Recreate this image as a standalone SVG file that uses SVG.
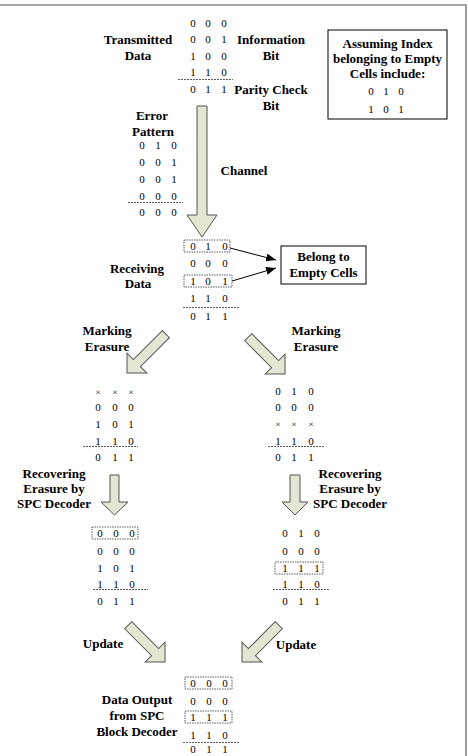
<svg xmlns="http://www.w3.org/2000/svg" width="468" height="756" viewBox="0 0 468 756">
<defs>
<style>
.lb{font-family:"Liberation Serif","Times New Roman",serif;font-weight:bold;font-size:13px;text-anchor:middle;fill:#000}
.d{font-family:"Liberation Serif","Times New Roman",serif;font-size:11px;text-anchor:middle;fill:#000}
.x{font-family:"Liberation Serif","Times New Roman",serif;font-size:9px;text-anchor:middle;fill:#000}
.dl{stroke:#333;stroke-width:0.8;stroke-dasharray:2 1;fill:none}
.bx{stroke:#333;stroke-width:0.8;stroke-dasharray:1.5 1;fill:none}
.ar{fill:#e4e5d2;stroke:#555;stroke-width:1}
.ln{stroke:#000;stroke-width:1;fill:none}
</style>
<marker id="ah" markerWidth="10" markerHeight="8" refX="10" refY="4" orient="auto" markerUnits="userSpaceOnUse">
<path d="M0,0 L10,4 L0,8 Z" fill="#000"/>
</marker>
</defs>
<path d="M0,5 H466 V756" fill="none" stroke="#888" stroke-width="1.6"/>

<g id="transmitted">
<text class="lb" x="138" y="43.5">Transmitted</text>
<text class="lb" x="138" y="59.5">Data</text>
<text class="d" x="193 200.5 208 216 224" y="27">0 0 0</text>
<text class="d" x="193 200.5 208 216 224" y="43">0 0 1</text>
<text class="d" x="193 200.5 208 216 224" y="60">1 0 0</text>
<text class="d" x="193 200.5 208 216 224" y="76">1 1 0</text>
<line class="dl" x1="178" y1="79.5" x2="233" y2="79.5"/>
<text class="d" x="193 200.5 208 216 224" y="93">0 1 1</text>
<text class="lb" x="271" y="43.5">Information</text>
<text class="lb" x="271" y="59.5">Bit</text>
<text class="lb" x="271" y="93.5">Parity Check</text>
<text class="lb" x="271" y="109.5">Bit</text>
</g>

<g id="assuming">
<rect x="328" y="30" width="119" height="89" fill="none" stroke="#000" stroke-width="1"/>
<text class="lb" x="387.5" y="47.5">Assuming Index</text>
<text class="lb" x="387.5" y="62.5">belonging to Empty</text>
<text class="lb" x="387.5" y="77.5">Cells include:</text>
<text class="d" x="371 378.5 386 393.5 401" y="95">0 1 0</text>
<text class="d" x="371 378.5 386 393.5 401" y="113">1 0 1</text>
</g>

<g id="error">
<text class="lb" x="152" y="119.5">Error</text>
<text class="lb" x="153" y="135.5">Pattern</text>
<text class="d" x="142 150 158 166 174" y="149">0 1 0</text>
<text class="d" x="142 150 158 166 174" y="166">0 0 1</text>
<text class="d" x="142 150 158 166 174" y="183">0 0 1</text>
<text class="d" x="142 150 158 166 174" y="200">0 0 0</text>
<line class="dl" x1="128" y1="202.5" x2="183" y2="202.5"/>
<text class="d" x="142 150 158 166 174" y="216">0 0 0</text>
</g>

<g id="channel-label">
<text class="lb" x="244" y="174.5">Channel</text>
</g>

<g id="receiving">
<text class="lb" x="137" y="272.5">Receiving</text>
<text class="lb" x="138" y="287.5">Data</text>
<rect class="bx" x="184" y="240" width="46" height="12"/>
<text class="d" x="193 200.5 208 216.5 225" y="250">0 1 0</text>
<text class="d" x="193 200.5 208 216.5 225" y="267">0 0 0</text>
<rect class="bx" x="184" y="275" width="48" height="12"/>
<text class="d" x="193 200.5 208 216.5 225" y="285">1 0 1</text>
<text class="d" x="193 200.5 208 216.5 225" y="302">1 1 0</text>
<line class="dl" x1="183" y1="307.5" x2="239" y2="307.5"/>
<text class="d" x="193 200.5 208 216.5 225" y="320">0 1 1</text>
</g>

<g id="belong">
<rect x="281" y="246" width="85" height="38" fill="none" stroke="#000" stroke-width="1"/>
<text class="lb" x="323.5" y="261">Belong to</text>
<text class="lb" x="323.5" y="277">Empty Cells</text>
</g>

<g id="marking-left">
<text class="lb" x="107" y="334.5">Marking</text>
<text class="lb" x="107" y="350.5">Erasure</text>
</g>
<g id="marking-right">
<text class="lb" x="316" y="334.5">Marking</text>
<text class="lb" x="316" y="350.5">Erasure</text>
</g>

<g id="left-erased">
<text class="x" x="98 106.5 115 123 131" y="395">× × ×</text>
<text class="d" x="98 106.5 115 123 131" y="411">0 0 0</text>
<text class="d" x="98 106.5 115 123 131" y="428">1 0 1</text>
<text class="d" x="98 106.5 115 123 131" y="445">1 1 0</text>
<line class="dl" x1="83" y1="446.5" x2="138" y2="446.5"/>
<text class="d" x="98 106.5 115 123 131" y="461">0 1 1</text>
</g>

<g id="right-erased">
<text class="d" x="278 286 294 302.5 311" y="395">0 1 0</text>
<text class="d" x="278 286 294 302.5 311" y="411">0 0 0</text>
<text class="x" x="278 286 294 302.5 311" y="427">× × ×</text>
<text class="d" x="278 286 294 302.5 311" y="445">1 1 0</text>
<line class="dl" x1="268" y1="446.5" x2="324" y2="446.5"/>
<text class="d" x="278 286 294 302.5 311" y="461">0 1 1</text>
</g>

<g id="recover-left">
<text class="lb" x="54" y="477.5">Recovering</text>
<text class="lb" x="54" y="492.5">Erasure by</text>
<text class="lb" x="54" y="507.5">SPC Decoder</text>
</g>
<g id="recover-right">
<text class="lb" x="350" y="477.5">Recovering</text>
<text class="lb" x="350" y="492.5">Erasure by</text>
<text class="lb" x="350" y="507.5">SPC Decoder</text>
</g>

<g id="left-recovered">
<rect class="bx" x="92" y="527" width="46" height="12"/>
<text class="d" x="100 108 116 124 132" y="537">0 0 0</text>
<text class="d" x="100 108 116 124 132" y="555">0 0 0</text>
<text class="d" x="100 108 116 124 132" y="572">1 0 1</text>
<text class="d" x="100 108 116 124 132" y="588">1 1 0</text>
<line class="dl" x1="93" y1="589.5" x2="148" y2="589.5"/>
<text class="d" x="100 108 116 124 132" y="605">0 1 1</text>
</g>

<g id="right-recovered">
<text class="d" x="285 293 301 309 317" y="537">0 1 0</text>
<text class="d" x="285 293 301 309 317" y="555">0 0 0</text>
<rect class="bx" x="275" y="562" width="48" height="12"/>
<text class="d" x="285 293 301 309 317" y="572">1 1 1</text>
<text class="d" x="285 293 301 309 317" y="588">1 1 0</text>
<line class="dl" x1="273" y1="589.5" x2="330" y2="589.5"/>
<text class="d" x="285 293 301 309 317" y="605">0 1 1</text>
</g>

<g id="update-left">
<text class="lb" x="103" y="648">Update</text>
</g>
<g id="update-right">
<text class="lb" x="296" y="649">Update</text>
</g>

<g id="output">
<text class="lb" x="137" y="703.5">Data Output</text>
<text class="lb" x="137" y="719.5">from SPC</text>
<text class="lb" x="137" y="735.5">Block Decoder</text>
<rect class="bx" x="185" y="677" width="47" height="12"/>
<text class="d" x="193 201 209 217 225" y="687">0 0 0</text>
<text class="d" x="193 201 209 217 225" y="705">0 0 0</text>
<rect class="bx" x="185" y="711" width="47" height="12"/>
<text class="d" x="193 201 209 217 225" y="721">1 1 1</text>
<text class="d" x="193 201 209 217 225" y="738.5">1 1 0</text>
<line class="dl" x1="183" y1="742.5" x2="239" y2="742.5"/>
<text class="d" x="193 201 209 217 225" y="753">0 1 1</text>
</g>

<g id="connectors">
<path class="ar" d="M197,106 H207 V215 H217 L202,237 L187,215 H197 Z"/>
<path class="ar" d="M-5,-55 V-14 H-14 L0,0 L14,-14 H5 V-55 Z" transform="translate(127,373) rotate(45)"/>
<path class="ar" d="M-5,-52 V-14 H-14 L0,0 L14,-14 H5 V-52 Z" transform="translate(285,374) rotate(-45)"/>
<path class="ar" d="M110,475 H119 V502 H128 L114.5,515 L101,502 H110 Z"/>
<path class="ar" d="M290,475 H300 V502 H308 L295,515 L282,502 H290 Z"/>
<path class="ar" d="M-5,-52 V-14 H-14 L0,0 L14,-14 H5 V-52 Z" transform="translate(165,662) rotate(-45)"/>
<path class="ar" d="M-5,-52 V-14 H-14 L0,0 L14,-14 H5 V-52 Z" transform="translate(242,662) rotate(45)"/>
<line class="ln" x1="230" y1="248" x2="276" y2="260" marker-end="url(#ah)"/>
<line class="ln" x1="232" y1="281" x2="276" y2="268" marker-end="url(#ah)"/>
</g>
</svg>
